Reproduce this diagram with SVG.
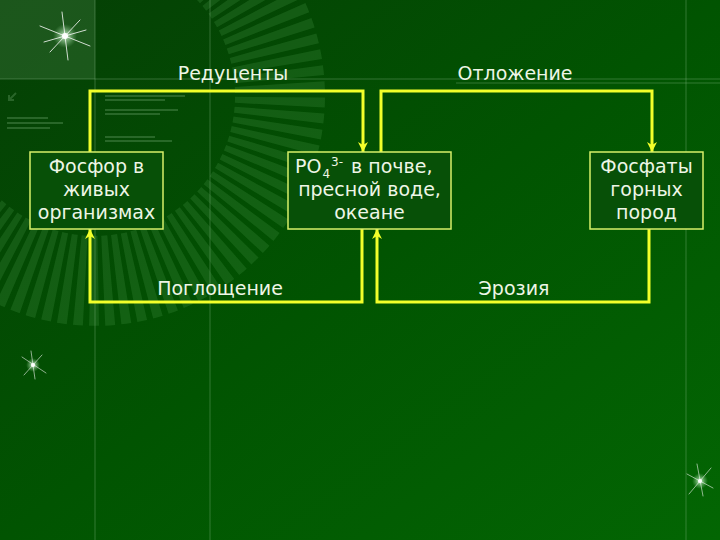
<svg xmlns="http://www.w3.org/2000/svg" width="720" height="540" viewBox="0 0 720 540">
<defs>
  <linearGradient id="bg" x1="0" y1="0" x2="1" y2="1">
    <stop offset="0" stop-color="#053f05"/>
    <stop offset="0.5" stop-color="#015401"/>
    <stop offset="1" stop-color="#036603"/>
  </linearGradient>
  <radialGradient id="glow">
    <stop offset="0" stop-color="#ffffff" stop-opacity="1"/>
    <stop offset="0.3" stop-color="#d8ffd8" stop-opacity="0.6"/>
    <stop offset="1" stop-color="#90d090" stop-opacity="0"/>
  </radialGradient>
  <marker id="arr" viewBox="0 0 10 10" refX="10" refY="5" markerWidth="10" markerHeight="10" markerUnits="userSpaceOnUse" orient="auto">
    <path d="M0,0 L10,5 L0,10 L3,5 z" fill="#f2ff2a"/>
  </marker>
  <style>
    .lbl { font-family: "DejaVu Sans", Verdana, sans-serif; font-size: 19px; fill: #eef6e6; text-anchor: middle; }
    .st { text-anchor: start; }
    .box { fill: #075007; stroke: #d8ef6a; stroke-width: 1.5; }
    .con { fill: none; stroke: #f2ff2a; stroke-width: 3; marker-end: url(#arr); }
    .deco { stroke: #8fc08f; stroke-opacity: 0.35; stroke-width: 1; }
    .fake { stroke: #6fa56f; stroke-opacity: 0.35; stroke-width: 2; }
    .ray { stroke: #ffffff; stroke-linecap: round; }
  </style>
</defs>

<!-- background -->
<rect x="0" y="0" width="720" height="540" fill="url(#bg)"/>
<rect x="0" y="0" width="95" height="79" fill="#2f6a2f" opacity="0.55"/>
<path d="M 187.4 -64.4 A 185 185 0 1 1 -90 95" fill="none" stroke="#3f8f3f" stroke-opacity="0.28" stroke-width="90" stroke-dasharray="8 5"/>
<line class="deco" x1="0" y1="79" x2="720" y2="79"/>
<line class="deco" x1="456" y1="83" x2="720" y2="83"/>
<line class="deco" x1="95" y1="0" x2="95" y2="540"/>
<line class="deco" x1="210" y1="0" x2="210" y2="540"/>
<line class="deco" x1="686" y1="0" x2="686" y2="540"/>
<g class="fake">
  <line x1="7" y1="118" x2="48" y2="118"/>
  <line x1="7" y1="123" x2="63" y2="123"/>
  <line x1="7" y1="128" x2="50" y2="128"/>
  <line x1="105" y1="96" x2="185" y2="96"/>
  <line x1="105" y1="100" x2="165" y2="100"/>
  <line x1="105" y1="110" x2="178" y2="110"/>
  <line x1="105" y1="114" x2="160" y2="114"/>
  <line x1="105" y1="137" x2="155" y2="137"/>
  <line x1="105" y1="141" x2="172" y2="141"/>
  <path d="M16,93 L9,100 M9,95 V100 H14" fill="none"/>
</g>

<!-- stars -->
<g>
  <circle cx="65" cy="36" r="12" fill="url(#glow)"/>
  <g class="ray" stroke-width="1" opacity="0.8">
    <line x1="40" y1="26" x2="90" y2="46"/>
    <line x1="80" y1="20" x2="50" y2="52"/>
    <line x1="62" y1="12" x2="68" y2="60"/>
    <line x1="44" y1="42" x2="86" y2="30"/>
  </g>
  <circle cx="65" cy="36" r="3" fill="#ffffff"/>
</g>
<g>
  <circle cx="33" cy="365" r="7" fill="url(#glow)"/>
  <g class="ray" stroke-width="0.8" opacity="0.7">
    <line x1="22" y1="357" x2="46" y2="373"/>
    <line x1="42" y1="355" x2="24" y2="375"/>
    <line x1="31" y1="351" x2="35" y2="379"/>
  </g>
  <circle cx="33" cy="365" r="2" fill="#ffffff"/>
</g>
<g>
  <circle cx="700" cy="481" r="8" fill="url(#glow)"/>
  <g class="ray" stroke-width="0.8" opacity="0.7">
    <line x1="687" y1="474" x2="713" y2="488"/>
    <line x1="711" y1="468" x2="689" y2="494"/>
    <line x1="697" y1="464" x2="703" y2="496"/>
  </g>
  <circle cx="700" cy="481" r="2" fill="#ffffff"/>
</g>

<!-- connectors -->
<g id="connectors">
  <path class="con" d="M90,152 V91 H363 V152"/>
  <path class="con" d="M381,152 V91 H652 V152"/>
  <path class="con" d="M362,229 V302 H90 V229"/>
  <path class="con" d="M649,229 V302 H377 V229"/>
  <text class="lbl" x="233" y="80">Редуценты</text>
  <text class="lbl" x="515" y="80">Отложение</text>
  <text class="lbl" x="220" y="295">Поглощение</text>
  <text class="lbl" x="514" y="295">Эрозия</text>
</g>

<!-- nodes -->
<g id="node-organisms">
  <rect class="box" x="30" y="152" width="133" height="77"/>
  <text class="lbl" x="96.5" y="173">Фосфор в</text>
  <text class="lbl" x="96.5" y="196">живых</text>
  <text class="lbl" x="96.5" y="219">организмах</text>
</g>
<g id="node-po4">
  <rect class="box" x="288" y="152" width="163" height="77"/>
  <text class="lbl st" x="295" y="173">PO<tspan font-size="12" dx="1" dy="5">4</tspan><tspan font-size="12" dx="1" dy="-12">3-</tspan><tspan dx="2" dy="7"> в почве,</tspan></text>
  <text class="lbl" x="369.5" y="196">пресной воде,</text>
  <text class="lbl" x="369.5" y="219">океане</text>
</g>
<g id="node-rocks">
  <rect class="box" x="590" y="152" width="113" height="77"/>
  <text class="lbl" x="646.5" y="173">Фосфаты</text>
  <text class="lbl" x="646.5" y="196">горных</text>
  <text class="lbl" x="646.5" y="219">пород</text>
</g>
</svg>
